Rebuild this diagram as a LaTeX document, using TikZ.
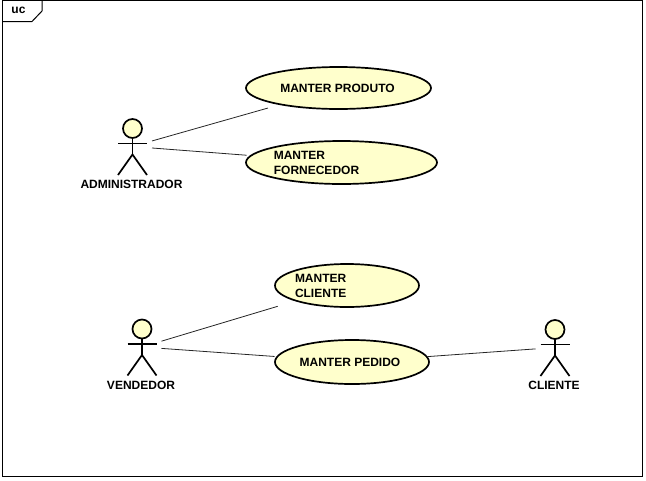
\documentclass[tikz,border=0pt]{standalone}
\usepackage{fontspec}
\setmainfont{Liberation Sans}
\usetikzlibrary{shapes.geometric}
\definecolor{ucfill}{HTML}{FFFFCC}
\tikzset{
	x=1pt, y=-1pt,
	umltext/.style={font=\fontsize{12}{15}\selectfont\bfseries, inner sep=0pt},
	ucase/.style={ellipse, draw=black, line width=1.7pt, fill=ucfill, umltext, outer sep=0pt},
	assoc/.style={line width=0.8pt, color=black!85},
	actorbox/.style={rectangle, minimum width=39pt, minimum height=56pt, inner sep=0pt, outer sep=0pt},
	actorline/.style={line width=1.7pt, color=black}
}
% stick figure: name, x, y, text
\newcommand{\umlactor}[4]{
	\node[actorbox] (#1) at (#2, #3) {};
	\begin{scope}[shift={(#2, #3)}]
		\draw[actorline, fill=ucfill] (0, -18) circle (9.5pt);
		\draw[actorline] (0, -8.5) -- (0, 8);
		\draw[actorline] (-14.5, -3) -- (14.5, -3);
		\draw[actorline] (-14.5, 28.5) -- (0, 8) -- (14.5, 28.5);
	\end{scope}
	\node[umltext] (#1name) at (#2 - 1, #3 + 38) {#4};
}

\begin{document}
\begin{tikzpicture}
	\useasboundingbox (0, 0) rectangle (646, 480);
	
	%%%%% FRAME %%%%%
	\draw[line width=1pt] (2.5, 0.5) rectangle (642.5, 476);
	\draw[line width=1pt] (2.5, 21.5) -- (32, 21.5) -- (42, 11) -- (42, 0.5);
	\node[umltext] (frametag) at (18.5, 10) {uc};
	
	%%%%% ACTORS %%%%%
	\umlactor{admin}{132.5}{146.5}{ADMINISTRADOR}
	\umlactor{vendedor}{142}{347}{VENDEDOR}
	\umlactor{cliente}{555}{347.5}{CLIENTE}
	
	%%%%% USE CASES %%%%%
	\node[ucase, minimum width=185pt, minimum height=42pt] (produto) at (338.5, 88) {\hspace*{-2pt}MANTER PRODUTO};
	\node[ucase, minimum width=191pt, minimum height=43pt, align=left] (fornecedor) at (341.5, 162.5)
		{\hspace*{-50pt}MANTER\\\hspace*{-50pt}FORNECEDOR};
	\node[ucase, minimum width=144pt, minimum height=43pt, align=left] (manterCliente) at (347, 285.5)
		{\hspace*{-52pt}MANTER\\\hspace*{-52pt}CLIENTE};
	\node[ucase, minimum width=154pt, minimum height=44pt] (pedido) at (352, 362) {\hspace*{-4pt}MANTER PEDIDO};
	
	%%%%% ASSOCIATIONS %%%%%
	\draw[assoc, shorten >=13.3pt] (admin) -- (produto);
	\draw[assoc, shorten >=4.5pt] (admin) -- (fornecedor);
	\draw[assoc, shorten >=19.3pt] (vendedor) -- (manterCliente);
	\draw[assoc, shorten >=2.8pt] (vendedor) -- (pedido);
	\draw[assoc, shorten <=1pt] (pedido) -- (cliente);
\end{tikzpicture}
\end{document}
